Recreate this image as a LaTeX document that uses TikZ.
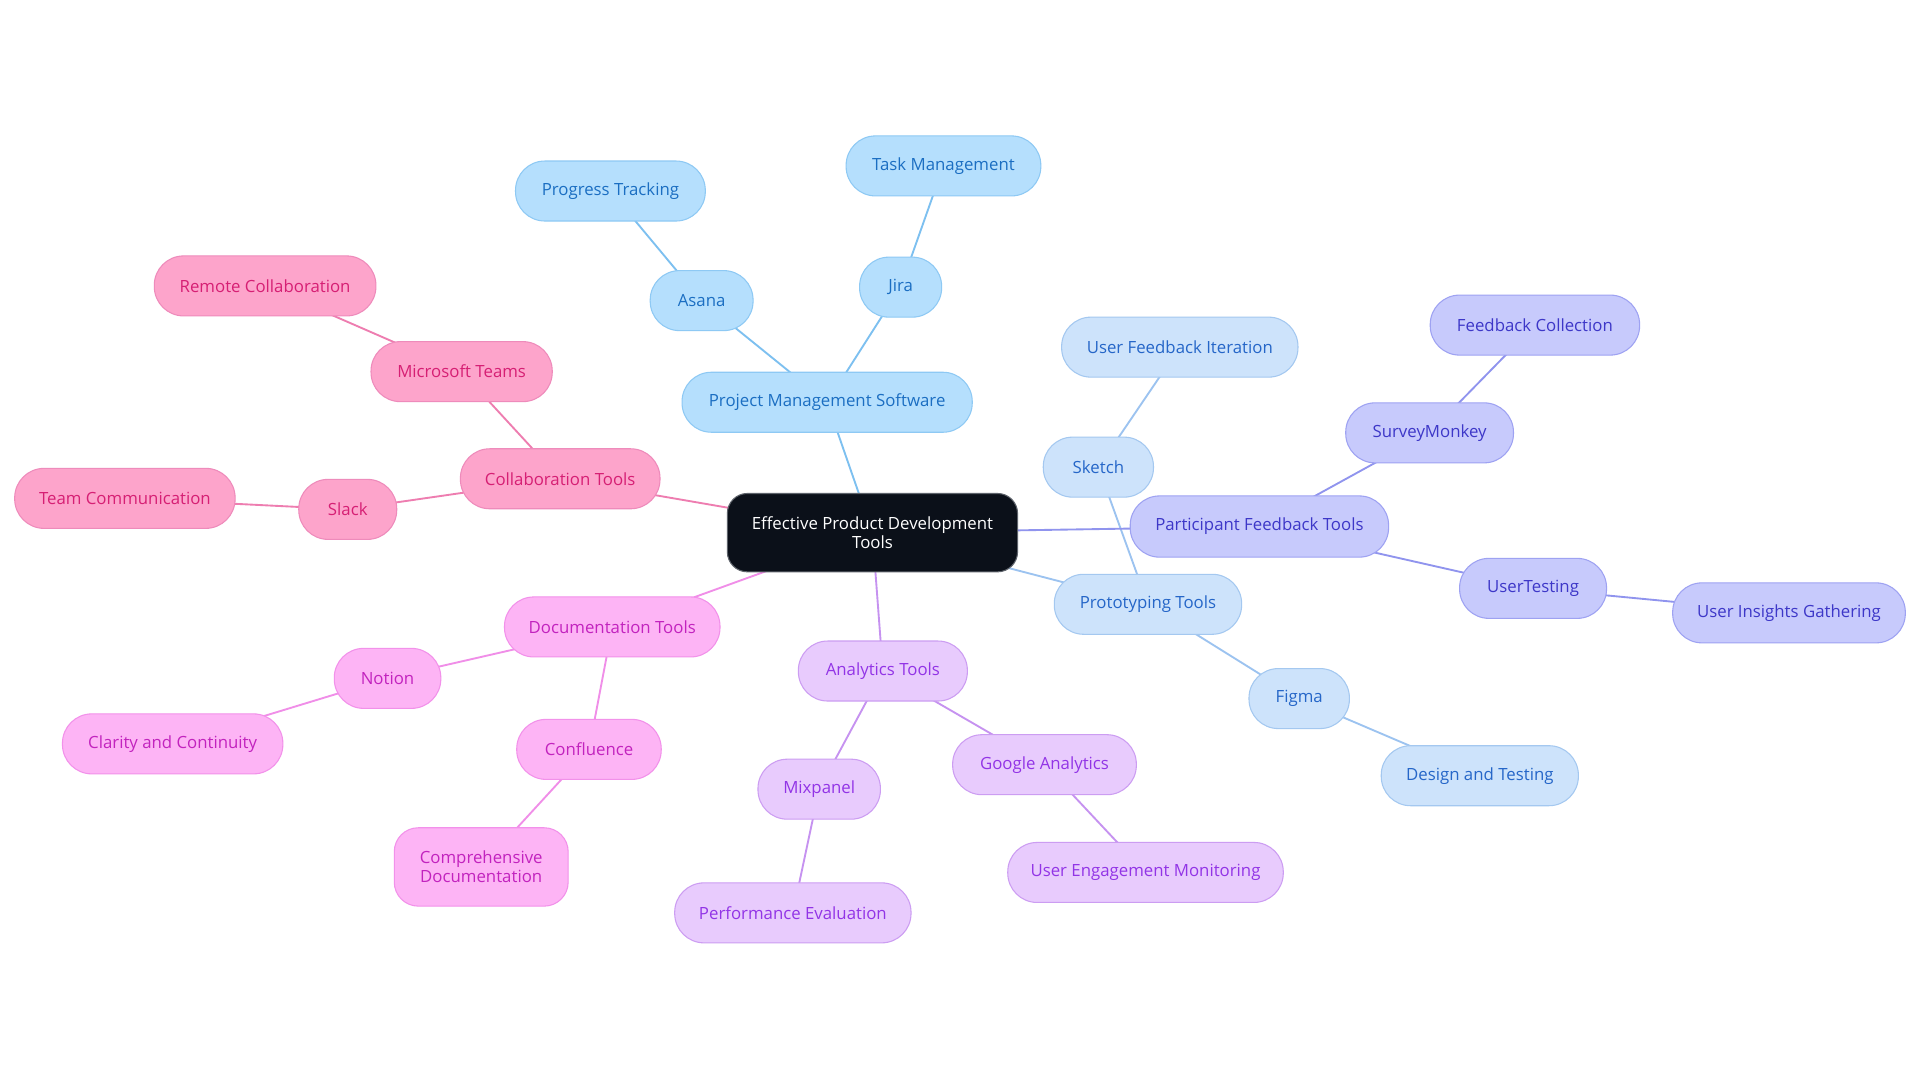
\documentclass[tikz,border=0pt]{standalone}
\usepackage{fontspec}
\setmainfont{Open Sans}
\pgfdeclarelayer{bottom}
\pgfdeclarelayer{background}
\pgfsetlayers{bottom,background,main}
\def\pxu{0.9184pt}
\definecolor{cenF}{HTML}{0B1019}
\definecolor{cenD}{HTML}{5E636B}
\definecolor{pmF}{HTML}{B5DFFD}
\definecolor{pmD}{HTML}{8EC9F4}
\definecolor{pmT}{HTML}{1B6EC2}
\definecolor{pmL}{HTML}{7DC0F0}
\definecolor{coF}{HTML}{FDA4CB}
\definecolor{coD}{HTML}{EE8BBB}
\definecolor{coT}{HTML}{D61F74}
\definecolor{coL}{HTML}{EE7DB0}
\definecolor{doF}{HTML}{FDB4F5}
\definecolor{doD}{HTML}{F291EA}
\definecolor{doT}{HTML}{C223BE}
\definecolor{doL}{HTML}{F08EE8}
\definecolor{anF}{HTML}{E8CBFD}
\definecolor{anD}{HTML}{CC9DF2}
\definecolor{anT}{HTML}{9234E6}
\definecolor{anL}{HTML}{C692F0}
\definecolor{prF}{HTML}{CDE3FB}
\definecolor{prD}{HTML}{A4C8F0}
\definecolor{prT}{HTML}{2566C8}
\definecolor{prL}{HTML}{9CC3F0}
\definecolor{inF}{HTML}{C7CAFC}
\definecolor{inD}{HTML}{9EA2F2}
\definecolor{inT}{HTML}{3D37C8}
\definecolor{inL}{HTML}{9094EE}
\tikzset{
  basebox/.style={rounded corners=22pt, line width=0.8pt, inner sep=0pt, align=center,
    font=\fontsize{12.6}{14}\selectfont},
  sz/.style 2 args={minimum width=#1*\pxu, minimum height=#2*\pxu},
  cenbox/.style={basebox, rounded corners=15pt, fill=cenF, draw=cenD, text=white},
  pmbox/.style={basebox, fill=pmF, draw=pmD, text=pmT},
  cobox/.style={basebox, fill=coF, draw=coD, text=coT},
  dobox/.style={basebox, fill=doF, draw=doD, text=doT},
  anbox/.style={basebox, fill=anF, draw=anD, text=anT},
  prbox/.style={basebox, fill=prF, draw=prD, text=prT},
  inbox/.style={basebox, fill=inF, draw=inD, text=inT},
  edgeline/.style={line width=1.4pt},
}
\begin{document}
\begin{tikzpicture}[x=\pxu, y=-\pxu]
\begin{pgfonlayer}{bottom}
\fill[white] (0,0) rectangle (1568,884.4);
\end{pgfonlayer}
\useasboundingbox (0,0) rectangle (1568,884.4);
% central
\node[cenbox, sz={237}{64}] (c) at (712.5,435) {Effective Product Development\\Tools};
% project management
\node[pmbox, sz={237}{49}] (pms) at (675.5,328.5) {Project Management Software};
\node[pmbox, sz={84}{49}] (asana) at (573,245.5) {Asana};
\node[pmbox, sz={67}{49}] (jira) at (735.5,234.5) {Jira};
\node[pmbox, sz={155}{49}] (prog) at (498.5,156) {Progress Tracking};
\node[pmbox, sz={159}{49}] (task) at (770.5,135.5) {Task Management};
% collaboration
\node[cobox, sz={163}{49}] (collab) at (457.5,391) {Collaboration Tools};
\node[cobox, sz={148}{49}] (teams) at (377,303.5) {Microsoft Teams};
\node[cobox, sz={181}{49}] (remote) at (216.5,233.5) {Remote Collaboration};
\node[cobox, sz={80}{49}] (slack) at (284,416) {Slack};
\node[cobox, sz={180}{49}] (teamc) at (102,407) {Team Communication};
% documentation
\node[dobox, sz={176}{49}] (doc) at (500,512) {Documentation Tools};
\node[dobox, sz={87}{49}] (notion) at (316.5,554) {Notion};
\node[dobox, sz={180}{49}] (clar) at (141,607.5) {Clarity and Continuity};
\node[dobox, sz={118}{49}] (conf) at (481,612) {Confluence};
\node[dobox, sz={142}{64}, rounded corners=18pt] (comp) at (393,708) {Comprehensive\\Documentation};
% analytics
\node[anbox, sz={138}{49}] (anal) at (721,548) {Analytics Tools};
\node[anbox, sz={100}{49}] (mix) at (669,644.5) {Mixpanel};
\node[anbox, sz={193}{49}] (perf) at (647.5,745.5) {Performance Evaluation};
\node[anbox, sz={150}{49}] (ga) at (853,624.5) {Google Analytics};
\node[anbox, sz={225}{49}] (uem) at (935.5,712.5) {User Engagement Monitoring};
% prototyping
\node[prbox, sz={153}{49}] (proto) at (937.5,493.5) {Prototyping Tools};
\node[prbox, sz={90}{49}] (sketch) at (897,381.5) {Sketch};
\node[prbox, sz={193}{49}] (ufi) at (963.5,283.5) {User Feedback Iteration};
\node[prbox, sz={82}{49}] (figma) at (1061,570.5) {Figma};
\node[prbox, sz={161}{49}] (design) at (1208.5,633.5) {Design and Testing};
% participant feedback
\node[inbox, sz={211}{50}] (pft) at (1028.5,430) {Participant Feedback Tools};
\node[inbox, sz={137}{49}] (survey) at (1167.5,353.5) {SurveyMonkey};
\node[inbox, sz={171}{49}] (fbc) at (1253.5,265.5) {Feedback Collection};
\node[inbox, sz={120}{49}] (ut) at (1252,480.5) {UserTesting};
\node[inbox, sz={190}{49}] (uig) at (1461,500.5) {User Insights Gathering};
% edges
\begin{pgfonlayer}{background}
\draw[edgeline, pmL] (c.center) -- (pms.center) (pms.center) -- (asana.center) (asana.center) -- (prog.center) (pms.center) -- (jira.center) (jira.center) -- (task.center);
\draw[edgeline, coL] (c.center) -- (collab.center) (collab.center) -- (teams.center) (teams.center) -- (remote.center) (collab.center) -- (slack.center) (slack.center) -- (teamc.center);
\draw[edgeline, doL] (c.center) -- (doc.center) (doc.center) -- (notion.center) (notion.center) -- (clar.center) (doc.center) -- (conf.center) (conf.center) -- (comp.center);
\draw[edgeline, anL] (c.center) -- (anal.center) (anal.center) -- (mix.center) (mix.center) -- (perf.center) (anal.center) -- (ga.center) (ga.center) -- (uem.center);
\draw[edgeline, prL] (c.center) -- (proto.center) (proto.center) -- (sketch.center) (sketch.center) -- (ufi.center) (proto.center) -- (figma.center) (figma.center) -- (design.center);
\draw[edgeline, inL] (c.center) -- (pft.center) (pft.center) -- (survey.center) (survey.center) -- (fbc.center) (pft.center) -- (ut.center) (ut.center) -- (uig.center);
\end{pgfonlayer}
\end{tikzpicture}
\end{document}
